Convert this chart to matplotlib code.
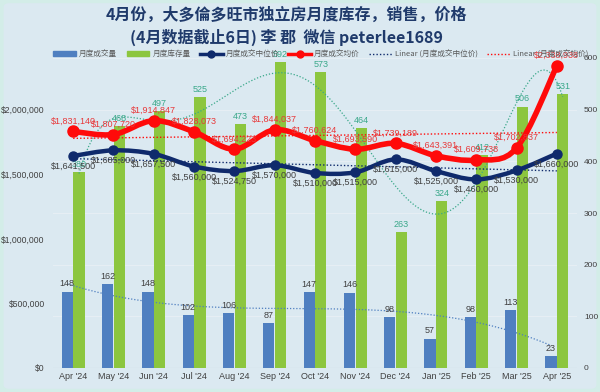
import numpy as np
import matplotlib
matplotlib.use("Agg")
import matplotlib.pyplot as plt
from matplotlib.path import Path
from matplotlib.patches import PathPatch, Patch, FancyBboxPatch
from matplotlib.lines import Line2D
from matplotlib.ticker import FuncFormatter, MultipleLocator

plt.rcParams['font.family'] = ['Noto Sans CJK SC', 'DejaVu Sans']

months = ["Apr '24", "May '24", "Jun '24", "Jul '24", "Aug '24", "Sep '24", "Oct '24",
          "Nov '24", "Dec '24", "Jan '25", "Feb '25", "Mar '25", "Apr '25"]
sales = [148, 162, 148, 102, 106, 87, 147, 146, 98, 57, 98, 113, 23]
inventory = [380, 468, 497, 525, 473, 592, 573, 464, 263, 324, 412, 506, 531]
median_price = [1641500, 1685000, 1657500, 1560000, 1524750, 1570000, 1510000,
                1515000, 1615000, 1525000, 1460000, 1530000, 1660000]
avg_price = [1831140, 1807720, 1914847, 1828073, 1694223, 1844037, 1760624,
             1693590, 1739189, 1643391, 1609738, 1702837, 2338938]

title_lines = ["4月份，大多倫多旺市独立房月度库存，销售，价格",
               "(4月数据截止6日) 李 郡  微信 peterlee1689"]
leg_labels = ["月度成交量", "月度库存量", "月度成交中位价", "月度成交均价",
              "Linear (月度成交中位价)", "Linear (月度成交均价)"]

C_BLUE = '#4f7fc0'
C_GREEN = '#8cc63f'
C_NAVY = '#0f2a6c'
C_RED = '#ff0a0a'
C_TEAL = '#3aa88a'
C_TXT = '#404040'
NUMF = ['Liberation Sans', 'DejaVu Sans']


def smooth_path(xs, ys):
    xs = np.asarray(xs, float)
    ys = np.asarray(ys, float)
    pts = np.column_stack([xs, ys])
    n = len(pts)
    verts = [pts[0]]
    codes = [Path.MOVETO]
    for i in range(n - 1):
        p0 = pts[i - 1] if i > 0 else pts[i]
        p1 = pts[i]
        p2 = pts[i + 1]
        p3 = pts[i + 2] if i + 2 < n else pts[i + 1]
        c1 = p1 + (p2 - p0) / 6.0
        c2 = p2 - (p3 - p1) / 6.0
        verts += [c1, c2, p2]
        codes += [Path.CURVE4] * 3
    return Path(verts, codes)


fig = plt.figure(figsize=(6, 3.92), dpi=100)
fig.patch.set_facecolor('#d3ede8')
bg = FancyBboxPatch((0.006, 0.008), 0.988, 0.984, boxstyle="round,pad=0,rounding_size=0.01",
                    transform=fig.transFigure, facecolor='#dbe9f1', edgecolor='none', zorder=-10)
fig.patches.append(bg)

ax = fig.add_axes([53 / 600, 1 - 368 / 392, 524 / 600, (368 - 58) / 392])
ax.set_facecolor('none')
x = np.arange(len(months))
w = 0.28

ax.bar(x - 0.145, sales, width=w, color=C_BLUE, zorder=2)
ax.bar(x + 0.145, inventory, width=w, color=C_GREEN, zorder=2)
ax.set_ylim(0, 600)
ax.set_xlim(-0.5, len(months) - 0.5)
ax.yaxis.set_major_locator(MultipleLocator(100))
ax.grid(axis='y', color='#e6eef4', linewidth=0.8, zorder=0)
ax.set_axisbelow(True)
ax.set_xticks(x)
ax.set_xticklabels(months, fontsize=6.5, color=C_TXT, family=NUMF)
ax.tick_params(axis='both', length=0, pad=3)
for s in ax.spines.values():
    s.set_visible(False)
ax.axhline(0, color='#c8d4dc', linewidth=0.8, zorder=1)

# polynomial trends for bars
xf = x + 1.0
xs_fine = np.linspace(xf[0], xf[-1], 200)
pinv = np.polyfit(xf, inventory, 6)
ax.plot(xs_fine - 1 + 0.145, np.polyval(pinv, xs_fine), ls=(0, (1, 1.5)), color=C_TEAL, lw=0.9, zorder=3)
psal = np.polyfit(xf, sales, 3)
ax.plot(xs_fine - 1 - 0.145, np.polyval(psal, xs_fine), ls=(0, (1, 1.5)), color=C_BLUE, lw=0.9, zorder=3)

for xi, v in zip(x, sales):
    ax.text(xi - 0.145, v + 6, str(v), ha='center', va='bottom', fontsize=6.5, color=C_TXT, family=NUMF, zorder=6)
for xi, v in zip(x, inventory):
    ax.text(xi + 0.145, v + 6, str(v), ha='center', va='bottom', fontsize=6.5, color=C_TEAL, family=NUMF, zorder=6)

ax2 = ax.twinx()
ax2.set_ylim(0, 2400000)
ax2.yaxis.tick_left()
ax2.yaxis.set_major_locator(MultipleLocator(500000))
ax2.yaxis.set_major_formatter(FuncFormatter(lambda v, p: f"${v:,.0f}" if v <= 2000000 else ""))
ax2.tick_params(axis='y', length=0, labelsize=6.2, labelcolor=C_TXT, pad=6)
for lab in ax2.get_yticklabels():
    lab.set_family(NUMF)
for s in ax2.spines.values():
    s.set_visible(False)

# right axis for counts (after twinx, which resets sides)
ax.yaxis.tick_right()
ax.tick_params(axis='y', length=0, labelsize=6, labelcolor=C_TXT, pad=5, labelleft=False, labelright=True)
for lab in ax.get_yticklabels():
    lab.set_family(NUMF)

# linear trends
for series, col in ((median_price, C_NAVY), (avg_price, C_RED)):
    p = np.polyfit(xf, series, 1)
    ax2.plot(x, np.polyval(p, xf), ls=(0, (1, 1.5)), color=col, lw=1.0, zorder=3)

ax2.add_patch(PathPatch(smooth_path(x, median_price), facecolor='none', edgecolor=C_NAVY, lw=3.2, zorder=4, capstyle='round'))
ax2.plot(x, median_price, 'o', color=C_NAVY, ms=6.5, zorder=5)
ax2.add_patch(PathPatch(smooth_path(x, avg_price), facecolor='none', edgecolor=C_RED, lw=4.0, zorder=4, capstyle='round'))
ax2.plot(x, avg_price, 'o', color=C_RED, ms=8, zorder=5)

for xi, v in zip(x, median_price):
    ax2.text(xi, v - 45000, f"${v:,.0f}", ha='center', va='top', fontsize=6.5, color=C_TXT, family=NUMF, zorder=6)
for xi, v in zip(x, avg_price):
    ax2.text(xi, v + 45000, f"${v:,.0f}", ha='center', va='bottom', fontsize=6.5, color='#e8383a', family=NUMF, zorder=6)

fig.text(0.478, 1 - 15 / 392, title_lines[0], ha='center', va='center', fontsize=11.5,
         fontweight='bold', color='#1f3a6b')
fig.text(0.478, 1 - 37 / 392, title_lines[1], ha='center', va='center', fontsize=11.5,
         fontweight='bold', color='#1f3a6b')

handles = [Patch(color=C_BLUE), Patch(color=C_GREEN),
           Line2D([], [], color=C_NAVY, lw=2.5, marker='o', ms=5),
           Line2D([], [], color=C_RED, lw=2.5, marker='o', ms=5),
           Line2D([], [], color=C_NAVY, lw=1, ls=(0, (1, 1.5))),
           Line2D([], [], color=C_RED, lw=1, ls=(0, (1, 1.5)))]
leg = fig.legend(handles, leg_labels, loc='center', bbox_to_anchor=(0.535, 1 - 54 / 392), ncol=6,
                 frameon=False, fontsize=5.5, handlelength=3, handleheight=0.5, columnspacing=1.2,
                 handletextpad=0.4, labelcolor='#595959')

fig.savefig('out.png', dpi=100, facecolor=fig.get_facecolor())
